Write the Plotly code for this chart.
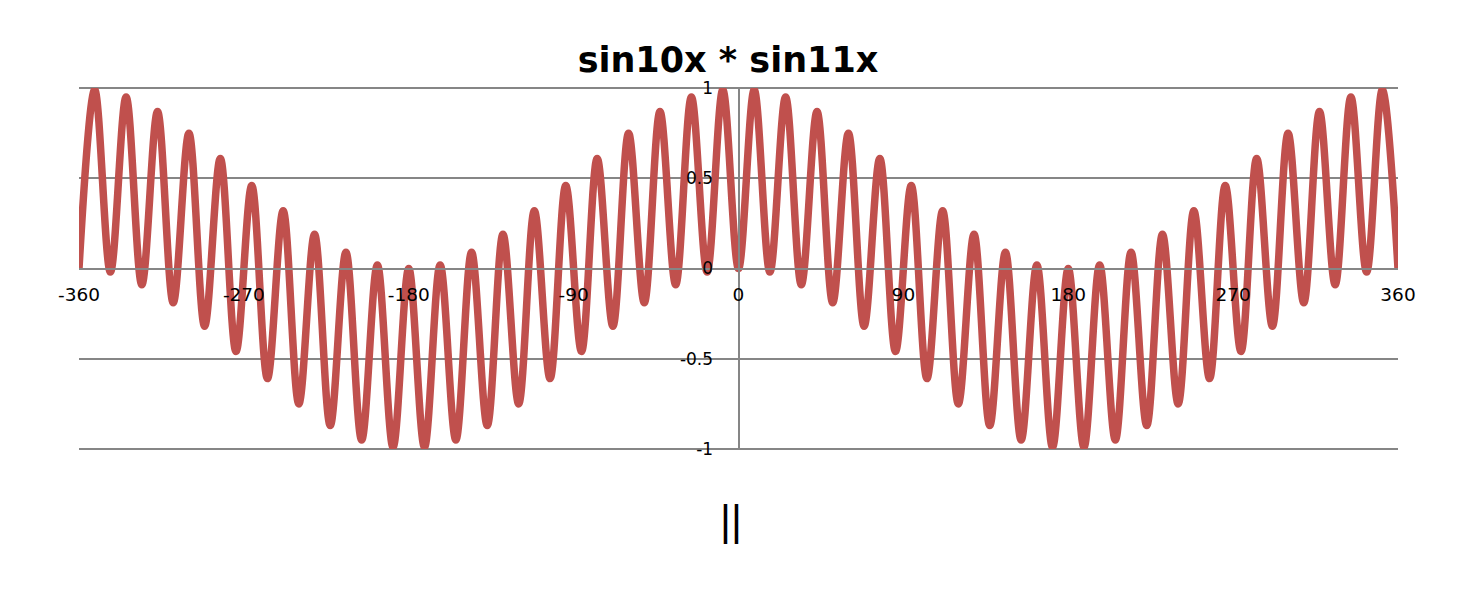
import plotly.graph_objects as go

# Extrema of the curve (x in degrees, y value)
x_deg = [-360, -351.43, -342.86, -334.29, -325.71, -317.14, -308.57, -300.0, -291.43, -282.86,
         -274.29, -265.71, -257.14, -248.57, -240.0, -231.43, -222.86, -214.29, -205.71, -197.14,
         -188.57, -180.0, -171.43, -162.86, -154.29, -145.71, -137.14, -128.57, -120.0, -111.43,
         -102.86, -94.29, -85.71, -77.14, -68.57, -60.0, -51.43, -42.86, -34.29, -25.71,
         -17.14, -8.57, 0.0, 8.57, 17.14, 25.71, 34.29, 42.86, 51.43, 60.0,
         68.57, 77.14, 85.71, 94.29, 102.86, 111.43, 120.0, 128.57, 137.14, 145.71,
         154.29, 162.86, 171.43, 180.0, 188.57, 197.14, 205.71, 214.29, 222.86, 231.43,
         240.0, 248.57, 257.14, 265.71, 274.29, 282.86, 291.43, 300.0, 308.57, 317.14,
         325.71, 334.29, 342.86, 351.43, 360]
y_val = [0.0, 0.99, -0.02, 0.95, -0.09, 0.87, -0.19, 0.75, -0.32, 0.61,
         -0.46, 0.46, -0.61, 0.32, -0.75, 0.19, -0.87, 0.09, -0.95, 0.02,
         -0.99, 0.0, -0.99, 0.02, -0.95, 0.09, -0.87, 0.19, -0.75, 0.32,
         -0.61, 0.46, -0.46, 0.61, -0.32, 0.75, -0.19, 0.87, -0.09, 0.95,
         -0.02, 0.99, 0.0, 0.99, -0.02, 0.95, -0.09, 0.87, -0.19, 0.75,
         -0.32, 0.61, -0.46, 0.46, -0.61, 0.32, -0.75, 0.19, -0.87, 0.09,
         -0.95, 0.02, -0.99, 0.0, -0.99, 0.02, -0.95, 0.09, -0.87, 0.19,
         -0.75, 0.32, -0.61, 0.46, -0.46, 0.61, -0.32, 0.75, -0.19, 0.87,
         -0.09, 0.95, -0.02, 0.99, 0.0]

x_ticks = [-360, -270, -180, -90, 0, 90, 180, 270, 360]
y_ticks = [-1, -0.5, 0, 0.5, 1]
y_tick_text = ["-1", "-0.5", "0", "0.5", "1"]

title_text = "sin10x * sin11x"
footer_text = "||"

W, H = 1476, 586  # page body adds an 8px margin
GRID = "#868686"

fig = go.Figure()
fig.add_trace(go.Scatter(
    x=x_deg, y=y_val, mode="lines",
    line=dict(color="#C0504D", width=7.5, shape="spline", smoothing=1.0),
    hoverinfo="skip", showlegend=False,
))

# gridlines on the bottom and top edges of the plot (plotly clips its own there)
for yp in (0, 1):
    fig.add_shape(type="line", xref="paper", yref="paper", x0=0, x1=1, y0=yp, y1=yp,
                  line=dict(color=GRID, width=2), layer="below")

fig.update_layout(
    width=W, height=H,
    paper_bgcolor="white", plot_bgcolor="white",
    margin=dict(l=71, r=86, t=80, b=145, autoexpand=False),
    font=dict(family="DejaVu Sans, Verdana, sans-serif", size=18, color="black"),
    title=dict(text="<b>" + title_text + "</b>", x=720 / W, xanchor="center",
               y=1 - 52 / H, yanchor="middle",
               font=dict(family="DejaVu Sans, sans-serif", size=35, color="black")),
    xaxis=dict(range=[-360, 360], tickvals=x_ticks, ticktext=[str(v) for v in x_ticks],
               showgrid=False, zeroline=False, showline=True, linecolor=GRID, linewidth=2,
               anchor="free", position=0.5, ticks="", ticklen=0, fixedrange=True,
               automargin=False, ticklabelstandoff=9, tickfont=dict(size=18.5)),
    yaxis=dict(range=[-1, 1], tickvals=y_ticks, ticktext=y_tick_text,
               showgrid=True, gridcolor=GRID, gridwidth=2,
               zeroline=False, showline=True, linecolor=GRID, linewidth=2,
               anchor="free", position=0.5, side="left", ticks="", ticklen=0,
               automargin=False, ticklabelstandoff=21,
               fixedrange=True, tickfont=dict(size=17)),
    annotations=[dict(text=footer_text, x=(731 - 79) / 1319, y=(449 - 520) / 361,
                      xref="paper", yref="paper", xanchor="center", yanchor="middle",
                      showarrow=False, font=dict(size=42, color="black",
                                                 family="Liberation Sans, sans-serif"))],
)

fig.write_html("out.html")
